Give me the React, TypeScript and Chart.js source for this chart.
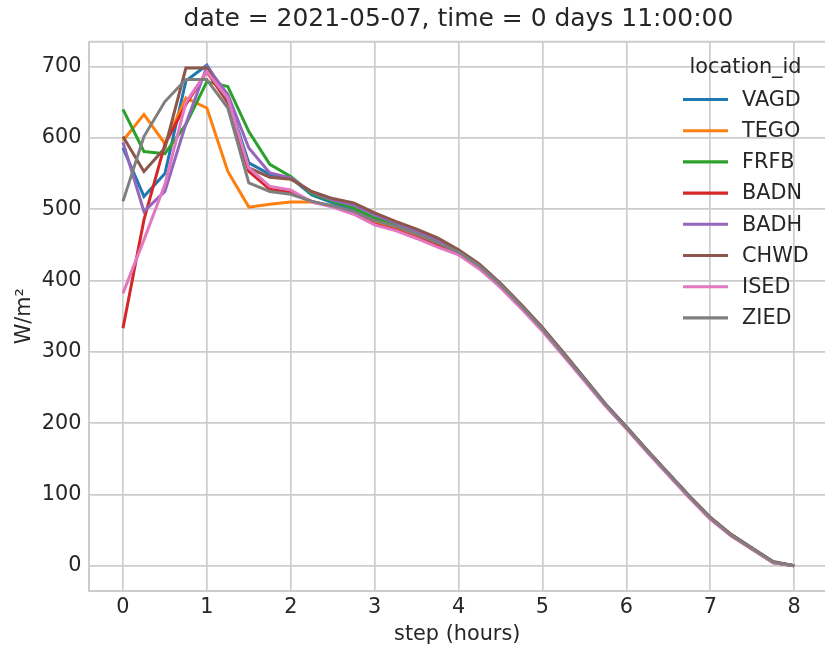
import React, { useEffect, useRef } from "react";
import { Chart, registerables } from "chart.js";

Chart.register(...registerables);

const steps = [0, 0.25, 0.5, 0.75, 1, 1.25, 1.5, 1.75, 2, 2.25, 2.5, 2.75, 3, 3.25, 3.5, 3.75, 4, 4.25, 4.5, 4.75, 5, 5.25, 5.5, 5.75, 6, 6.25, 6.5, 6.75, 7, 7.25, 7.5, 7.75, 8];

const VAGD = [586, 518, 550, 680, 702, 656, 565, 549, 544, 520, 509, 500, 486, 476, 465, 454, 440, 420, 394, 364, 332, 297, 262, 226, 194, 161, 129, 97, 67, 43, 24, 5, 0];
const TEGO = [596, 633, 592, 656, 642, 553, 503, 507, 510, 510, 504, 496, 482, 474, 463, 451, 439, 419, 393, 363, 331, 296, 261, 225, 193, 160, 128, 96, 66, 42, 23, 5, 0];
const FRFB = [640, 581, 578, 619, 679, 672, 609, 563, 546, 522, 511, 502, 488, 478, 467, 455, 441, 421, 395, 364, 332, 297, 262, 226, 194, 161, 129, 97, 67, 43, 24, 5, 0];
const BADN = [333, 485, 591, 647, 693, 649, 553, 528, 524, 511, 504, 494, 479, 471, 460, 449, 438, 418, 392, 362, 330, 296, 261, 225, 193, 160, 128, 96, 66, 42, 23, 4, 0];
const BADH = [594, 497, 525, 620, 700, 661, 586, 551, 544, 524, 513, 506, 492, 481, 469, 457, 442, 422, 395, 365, 333, 298, 263, 227, 195, 161, 129, 97, 67, 43, 24, 5, 0];
const CHWD = [602, 553, 586, 698, 698, 651, 558, 545, 542, 525, 515, 509, 495, 483, 472, 460, 443, 423, 396, 366, 334, 299, 263, 227, 195, 162, 130, 98, 68, 44, 25, 6, 0];
const ISED = [382, 457, 535, 650, 693, 656, 558, 532, 527, 510, 503, 493, 478, 470, 459, 447, 436, 416, 390, 360, 329, 294, 259, 224, 192, 159, 127, 95, 65, 42, 23, 4, 0];
const ZIED = [511, 602, 651, 682, 682, 642, 537, 525, 521, 511, 505, 497, 484, 476, 465, 453, 440, 420, 394, 364, 332, 297, 262, 226, 194, 161, 129, 97, 67, 43, 24, 5, 0];

const locationNames = ["VAGD", "TEGO", "FRFB", "BADN", "BADH", "CHWD", "ISED", "ZIED"];
const seriesValues = [VAGD, TEGO, FRFB, BADN, BADH, CHWD, ISED, ZIED];
const seriesColors = ["#1f77b4", "#ff7f0e", "#2ca02c", "#d62728", "#9467bd", "#8c564b", "#e377c2", "#7f7f7f"];

const xTicks = [0, 1, 2, 3, 4, 5, 6, 7, 8];
const yTicks = [0, 100, 200, 300, 400, 500, 600, 700];

const titleText = "date = 2021-05-07, time = 0 days 11:00:00";
const xLabel = "step (hours)";
const yLabel = "W/m²";
const legendTitle = "location_id";

const FONT = "'DejaVu Sans', sans-serif";
const TEXT = "#262626";
const GRID = "#cccccc";
const BASE = 20.8;

const framePlugin = {
  id: "frameAndLegend",
  beforeDatasetsDraw(chart: any) {
    const { ctx, chartArea } = chart;
    ctx.save();
    ctx.strokeStyle = GRID;
    ctx.lineWidth = 2;
    ctx.beginPath();
    ctx.moveTo(chartArea.left, chartArea.top);
    ctx.lineTo(chartArea.right + 5, chartArea.top);
    ctx.stroke();
    ctx.restore();
  },
  afterDraw(chart: any) {
    const { ctx, chartArea } = chart;
    ctx.save();
    ctx.fillStyle = TEXT;
    ctx.textBaseline = "middle";
    ctx.textAlign = "center";
    ctx.font = `24.96px ${FONT}`;
    ctx.fillText(titleText, (chartArea.left + chartArea.right + 2.5) / 2, 19.5);
    ctx.font = `${BASE}px ${FONT}`;
    ctx.fillText(legendTitle, 745.5, 68);
    ctx.textAlign = "left";
    chart.data.datasets.forEach((ds: any, i: number) => {
      const y = 99.5 + i * 31.2;
      ctx.strokeStyle = ds.borderColor;
      ctx.lineWidth = 3.1;
      ctx.beginPath();
      ctx.moveTo(683, y);
      ctx.lineTo(728, y);
      ctx.stroke();
      ctx.fillStyle = TEXT;
      ctx.fillText(ds.label, 742, y + 1);
    });
    ctx.restore();
  },
};

export default function App() {
  const ref = useRef<HTMLCanvasElement>(null);
  useEffect(() => {
    document.body.style.margin = "0";
    document.body.style.overflow = "hidden";
    const canvas = ref.current;
    if (!canvas) return;
    const chart = new Chart(canvas, {
      type: "line",
      data: {
        datasets: locationNames.map((name, i) => ({
          label: name,
          data: steps.map((s, j) => ({ x: s, y: seriesValues[i][j] })),
          borderColor: seriesColors[i],
          backgroundColor: seriesColors[i],
          borderWidth: 3,
          pointRadius: 0,
          pointHoverRadius: 0,
          tension: 0,
          fill: false,
          order: locationNames.length - 1 - i,
        })),
      },
      options: {
        animation: false,
        responsive: false,
        devicePixelRatio: 1,
        layout: { padding: { left: 0, right: 0, top: 41.7, bottom: 0 } },
        plugins: {
          legend: { display: false },
          tooltip: { enabled: false },
          title: { display: false },
        },
        scales: {
          x: {
            type: "linear",
            min: -0.4,
            max: 8.367,
            afterBuildTicks: (scale: any) => {
              scale.ticks = xTicks.map((v) => ({ value: v }));
            },
            afterFit: (scale: any) => {
              scale.height = 57.3;
            },
            grid: { color: GRID, lineWidth: 1.7, drawTicks: false },
            border: { display: true, color: GRID, width: 2 },
            ticks: {
              color: TEXT,
              font: { family: FONT, size: BASE },
              padding: 4,
              maxRotation: 0,
              callback: (v: any) => String(v),
            },
            title: {
              display: true,
              text: xLabel,
              color: TEXT,
              font: { family: FONT, size: BASE },
              padding: { top: 0, bottom: 0.5 },
            },
          },
          y: {
            type: "linear",
            min: -35,
            max: 735,
            afterBuildTicks: (scale: any) => {
              scale.ticks = yTicks.map((v) => ({ value: v }));
            },
            afterFit: (scale: any) => {
              scale.width = 89.4;
            },
            grid: { color: GRID, lineWidth: 1.7, drawTicks: false },
            border: { display: true, color: GRID, width: 2 },
            ticks: {
              color: TEXT,
              font: { family: FONT, size: BASE },
              padding: 8,
              callback: (v: any) => String(v),
            },
            title: {
              display: true,
              text: yLabel,
              color: TEXT,
              font: { family: FONT, size: BASE },
              padding: { top: 12.5, bottom: 0 },
            },
          },
        },
      },
      plugins: [framePlugin],
    } as any);
    return () => chart.destroy();
  }, []);
  return (
    <div style={{ width: 825, height: 648, overflow: "hidden" }}>
      <canvas ref={ref} width={825} height={648} style={{ display: "block" }} />
    </div>
  );
}
